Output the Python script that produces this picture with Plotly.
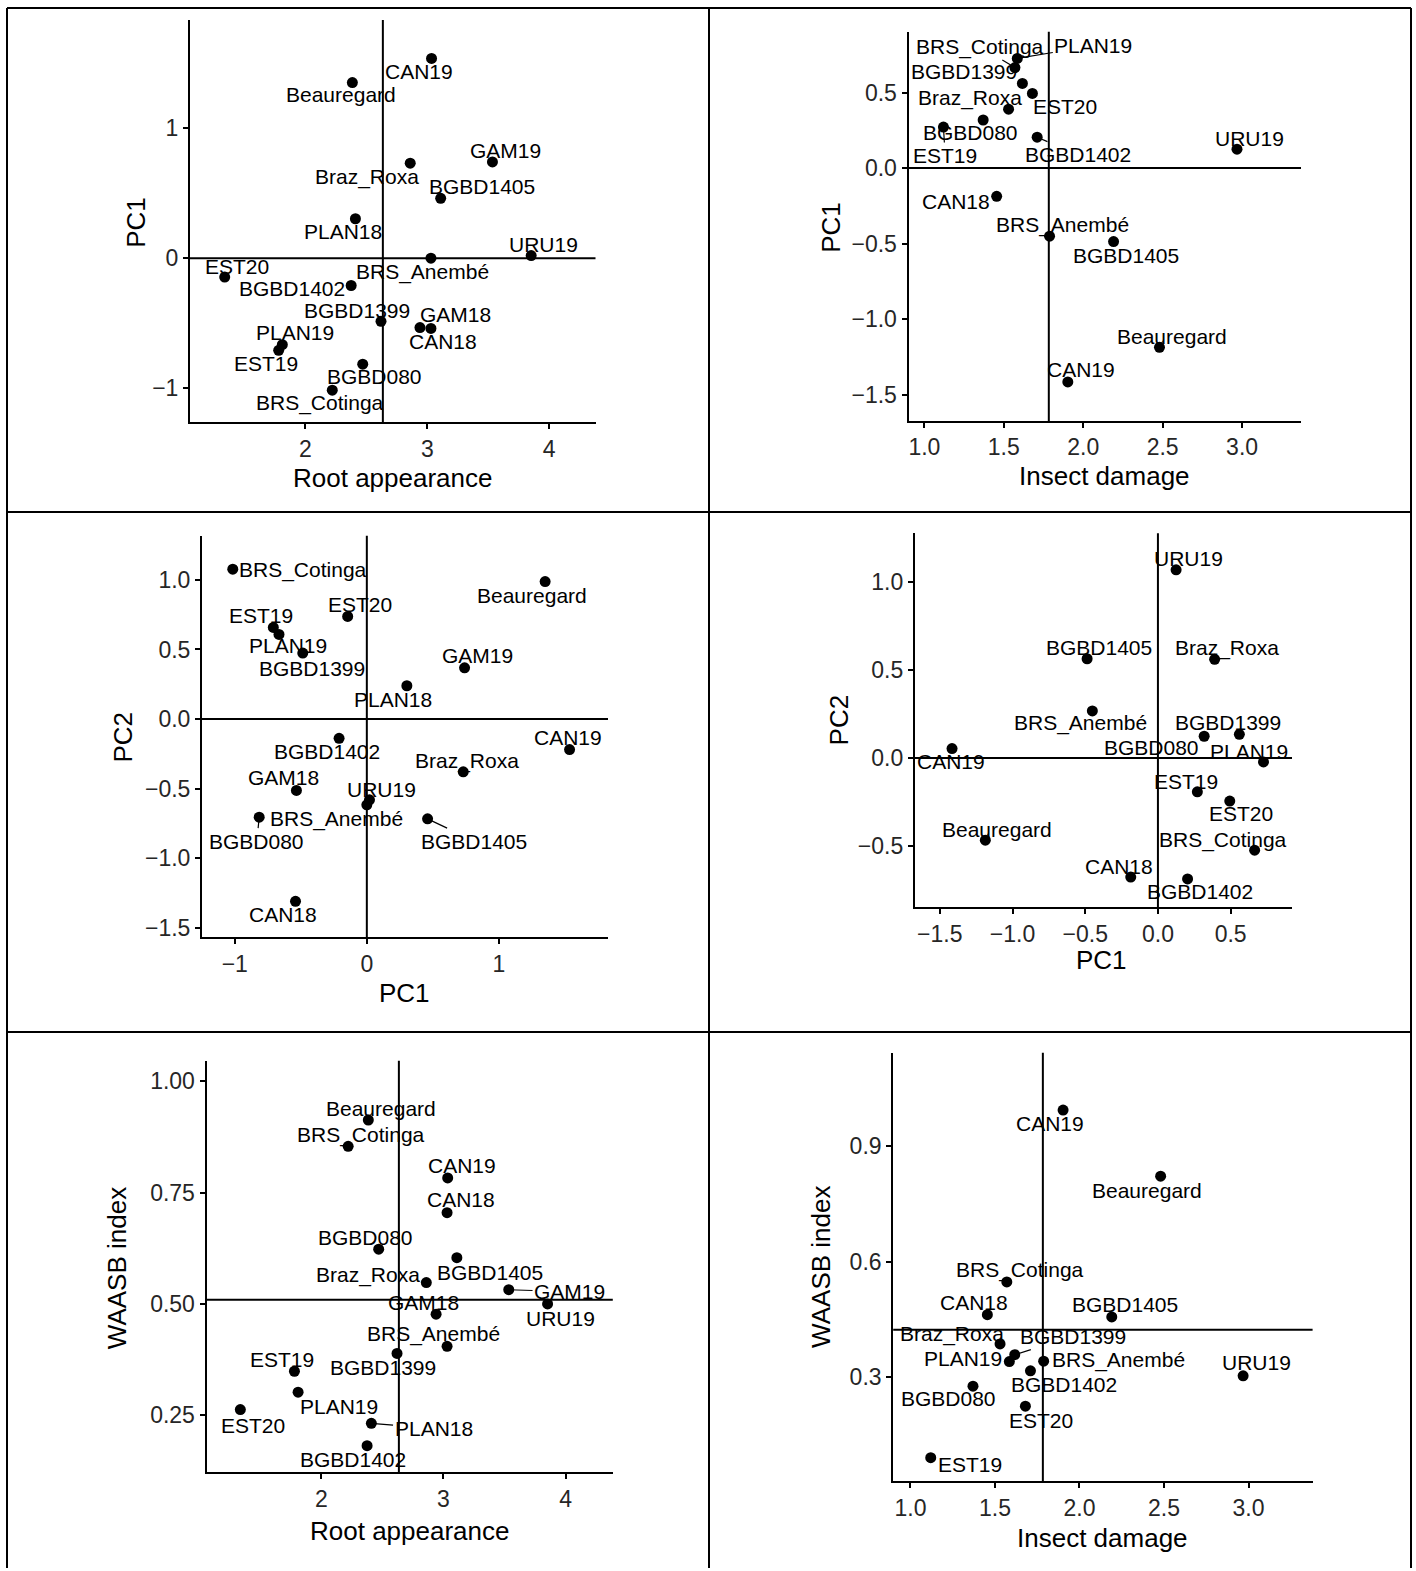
import numpy as np
import plotly.graph_objects as go

W, H = 1416, 1571
FONT = "Liberation Sans, Arial, sans-serif"

# ---------------- data ----------------
genotypes_a = ["Beauregard", "BGBD080", "BGBD1399", "BGBD1402", "BGBD1405", "Braz_Roxa",
               "BRS_Anembé", "BRS_Cotinga", "CAN18", "CAN19", "EST19", "EST20",
               "GAM18", "GAM19", "PLAN18", "PLAN19", "URU19"]
root_appearance = [2.385, 2.47, 2.62, 2.375, 3.11, 2.86, 3.03, 2.22, 3.03, 3.035, 1.78, 1.337,
                   2.94, 3.535, 2.41, 1.81, 3.853]
pc1_a = [1.35, -0.815, -0.485, -0.21, 0.46, 0.73, 0.0, -1.015, -0.54, 1.535, -0.708, -0.145,
         -0.533, 0.74, 0.303, -0.665, 0.02]
pc2_a = [0.988, -0.706, 0.474, -0.139, -0.718, -0.380, -0.617, 1.077, -1.311, -0.220, 0.658, 0.737,
         -0.514, 0.368, 0.239, 0.608, -0.581]
waasb_a = [0.913, 0.623, 0.389, 0.182, 0.604, 0.548, 0.405, 0.854, 0.705, 0.783, 0.349, 0.263,
           0.477, 0.532, 0.232, 0.302, 0.500]

genotypes_b = ["Beauregard", "BGBD080", "BGBD1399", "BGBD1402", "BGBD1405", "Braz_Roxa",
               "BRS_Anembé", "BRS_Cotinga", "CAN18", "CAN19", "EST19", "EST20", "PLAN19", "URU19"]
insect_damage = [2.48, 1.37, 1.617, 1.71, 2.191, 1.53, 1.788, 1.57, 1.455, 1.903, 1.12, 1.68, 1.585, 2.968]
pc1_b = [-1.187, 0.318, 0.56, 0.204, -0.487, 0.39, -0.451, 0.665, -0.187, -1.416, 0.271, 0.494, 0.726, 0.125]
pc2_b = [-0.468, 0.123, 0.134, -0.689, 0.564, 0.561, 0.267, -0.525, -0.678, 0.053, -0.193, -0.246, -0.023, 1.070]
waasb_b = [0.822, 0.276, 0.358, 0.316, 0.456, 0.386, 0.341, 0.547, 0.462, 0.994, 0.090, 0.224, 0.340, 0.303]

# ---------------- label placement (pixel offsets: dx, dy-down, anchor) ----------------
lab1 = {"CAN19": (-12.7, 13, "c"), "Beauregard": (-11.8, 12, "c"), "GAM19": (12.7, -11.7, "c"),
        "Braz_Roxa": (-43.6, 13.3, "c"), "BGBD1405": (41, -11.7, "c"), "PLAN18": (-12.7, 13, "c"),
        "URU19": (12.3, -11, "c"), "BRS_Anembé": (-8.6, 13.7, "c"), "EST20": (11.8, -11, "c"),
        "BGBD1402": (-4.5, 2.7, "r"), "BGBD1399": (-24.5, -11, "c"), "GAM18": (35.5, -12.7, "c"),
        "CAN18": (11.8, 12.7, "c"), "PLAN19": (12.3, -11.7, "c"), "EST19": (-12.7, 13, "c"),
        "BGBD080": (11.8, 12.7, "c"), "BRS_Cotinga": (-12.3, 13, "c")}
lab2 = {"BRS_Cotinga": (-35.3, -21, "a"), "PLAN19": (76, -12.6, "a"), "BGBD1399": (-3.4, -12.3, "r"),
        "Braz_Roxa": (-38.6, -10.7, "c"), "EST20": (33, 13.4, "c"), "BGBD080": (-12.7, 12.6, "c"),
        "EST19": (1.7, 28.4, "a"), "BGBD1402": (40.7, 17.4, "a"), "URU19": (12.7, -11, "c"),
        "CAN18": (-4.5, 5.3, "r"), "BRS_Anembé": (12.7, -11, "c"), "BGBD1405": (12.3, 13.7, "c"),
        "Beauregard": (12.7, -11, "c"), "CAN19": (12.7, -12.3, "c")}
lab3 = {"BRS_Cotinga": (4.6, 0.7, "l"), "Beauregard": (-13.6, 14.3, "c"), "EST20": (12.7, -12, "c"),
        "EST19": (-12.7, -12.3, "c"), "PLAN19": (9.1, 10.7, "c"), "BGBD1399": (9.5, 15.3, "c"),
        "GAM19": (13.2, -12.7, "c"), "PLAN18": (-13.6, 13.7, "c"), "CAN19": (-1.8, -12, "c"),
        "BGBD1402": (-12.3, 13.3, "c"), "Braz_Roxa": (3.6, -10.7, "c"), "GAM18": (-12.7, -12.7, "c"),
        "URU19": (12.3, -10.7, "c"), "BRS_Anembé": (-30.5, 14.3, "c"), "BGBD080": (-2.3, 24, "a"),
        "BGBD1405": (46.8, 22.3, "a"), "CAN18": (-12.3, 13.3, "c")}
lab4 = {"URU19": (12.7, -11.7, "c"), "BGBD1405": (11.4, -11, "c"), "Braz_Roxa": (12.3, -11.3, "c"),
        "BRS_Anembé": (-11.8, 12.3, "c"), "BGBD1399": (-11.4, -12, "c"), "BGBD080": (-3.6, 11.7, "r"),
        "PLAN19": (-15, -10.7, "c"), "CAN19": (-0.9, 12.7, "c"), "EST19": (-10.9, -10.7, "c"),
        "EST20": (11.4, 12.7, "c"), "Beauregard": (11.8, -11, "c"), "BRS_Cotinga": (-31.4, -9.7, "c"),
        "CAN18": (-11.4, -11, "c"), "BGBD1402": (12.3, 13, "c")}
lab5 = {"Beauregard": (12.3, -11.4, "c"), "BRS_Cotinga": (12.7, -11.4, "c"), "CAN19": (14, -12.1, "c"),
        "CAN18": (14, -13.5, "c"), "BGBD080": (-13.2, -11.7, "c"), "BGBD1405": (33.1, 14.8, "c"),
        "Braz_Roxa": (-4.6, -7.6, "r"), "GAM19": (60.8, 2, "a"), "URU19": (12.7, 14.5, "c"),
        "GAM18": (-12.3, -11.7, "c"), "BRS_Anembé": (-13.2, -12.8, "c"), "BGBD1399": (-14.1, 14.5, "c"),
        "EST19": (-12.7, -11.7, "c"), "PLAN19": (41.3, 14.1, "c"), "EST20": (12.3, 15.5, "c"),
        "PLAN18": (62.2, 5.2, "a"), "BGBD1402": (-13.6, 13.8, "c")}
lab6 = {"CAN19": (-12.7, 13.8, "c"), "Beauregard": (-13.2, 14.5, "c"), "BRS_Cotinga": (13.6, -11.7, "c"),
        "CAN18": (-13.6, -11.7, "c"), "BGBD1405": (13.6, -12.4, "c"), "Braz_Roxa": (-47.7, -9.7, "c"),
        "BGBD1399": (58, -18, "a"), "PLAN19": (-5.7, -2.7, "r"), "BRS_Anembé": (6, -1.7, "l"),
        "BGBD1402": (33.6, 13.4, "c"), "BGBD080": (-24.4, 12.7, "c"), "EST20": (15.9, 13.8, "c"),
        "URU19": (13.2, -13.8, "c"), "EST19": (5.4, 6.9, "l")}

panels = [
    dict(k="", x=root_appearance, y=pc1_a, names=genotypes_a, lab=lab1,
         xpx=(190, 595.5), ypx=(20, 423.3), xr=[1.052, 4.381], yr=[-1.263, 1.831],
         xt=dict(tickvals=[2, 3, 4]), yt=dict(tickvals=[-1, 0, 1]),
         vline=np.mean(root_appearance), hline=0.0,
         xtitle=("Root appearance", 392.5, 479), ytitle=("PC1", 135.2, 223)),
    dict(k="2", x=insect_damage, y=pc1_b, names=genotypes_b, lab=lab2,
         xpx=(908.5, 1301), ypx=(31.7, 421.7), xr=[0.9, 3.371], yr=[-1.674, 0.903],
         xt=dict(tick0=1.0, dtick=0.5, tickformat=".1f"), yt=dict(tick0=0, dtick=0.5, tickformat=".1f"),
         vline=np.mean(insect_damage), hline=0.0,
         xtitle=("Insect damage", 1104.6, 477), ytitle=("PC1", 830.7, 227.5)),
    dict(k="3", x=pc1_a, y=pc2_a, names=genotypes_a, lab=lab3,
         xpx=(202, 608), ypx=(536.7, 939), xr=[-1.248, 1.826], yr=[-1.569, 1.318],
         xt=dict(tickvals=[-1, 0, 1]), yt=dict(tick0=0, dtick=0.5, tickformat=".1f"),
         vline=0.0, hline=0.0,
         xtitle=("PC1", 404.5, 995), ytitle=("PC2", 122.7, 738.3)),
    dict(k="4", x=pc1_b, y=pc2_b, names=genotypes_b, lab=lab4,
         xpx=(914.8, 1292), ypx=(534.3, 909), xr=[-1.672, 0.922], yr=[-0.850, 1.278],
         xt=dict(tick0=0, dtick=0.5, tickformat=".1f"), yt=dict(tick0=0, dtick=0.5, tickformat=".1f"),
         vline=0.0, hline=0.0,
         xtitle=("PC1", 1101.9, 962), ytitle=("PC2", 839.1, 721.7)),
    dict(k="5", x=root_appearance, y=waasb_a, names=genotypes_a, lab=lab5,
         xpx=(206.5, 612.8), ypx=(1062.8, 1475), xr=[1.06, 4.387], yr=[0.1224, 1.046],
         xt=dict(tickvals=[2, 3, 4]), yt=dict(tick0=0, dtick=0.25, tickformat=".2f"),
         vline=np.mean(root_appearance), hline=np.mean(waasb_a),
         xtitle=("Root appearance", 409, 1534), ytitle=("WAASB index", 116.9, 1270.7)),
    dict(k="6", x=insect_damage, y=waasb_b, names=genotypes_b, lab=lab6,
         xpx=(893.2, 1312.6), ypx=(1054.8, 1483.8), xr=[0.898, 3.379], yr=[0.0296, 1.143],
         xt=dict(tick0=1.0, dtick=0.5, tickformat=".1f"), yt=dict(tick0=0, dtick=0.3, tickformat=".1f"),
         vline=np.mean(insect_damage), hline=np.mean(waasb_b),
         xtitle=("Insect damage", 1102.5, 1541), ytitle=("WAASB index", 821.5, 1269.8)),
]

fig = go.Figure()
annotations = []
shapes = []
axis_common = dict(showgrid=False, zeroline=False, showline=True, linecolor="black", linewidth=2,
                   ticks="outside", ticklen=5, tickwidth=1.5, tickcolor="black",
                   tickfont=dict(family=FONT, size=23, color="#262626"), fixedrange=True)

for p in panels:
    k = p["k"]
    xname, yname = "x" + k, "y" + k
    fig.add_trace(go.Scatter(x=p["x"], y=p["y"], mode="markers",
                             marker=dict(color="black", size=11, line=dict(width=0)),
                             xaxis=xname, yaxis=yname, hoverinfo="skip", showlegend=False))
    xd = [p["xpx"][0] / W, p["xpx"][1] / W]
    yd = [1 - p["ypx"][1] / H, 1 - p["ypx"][0] / H]
    xa = dict(axis_common, domain=xd, range=p["xr"], anchor=yname, **p["xt"])
    ya = dict(axis_common, domain=yd, range=p["yr"], anchor=xname, **p["yt"])
    if "tickvals" in p["xt"]:
        xa["tickmode"] = "array"
    if "tickvals" in p["yt"]:
        ya["tickmode"] = "array"
    fig.update_layout(**{"xaxis" + k: xa, "yaxis" + k: ya})

    # reference lines
    shapes.append(dict(type="line", xref=xname, yref=yname + " domain", x0=p["vline"], x1=p["vline"],
                       y0=0, y1=1, line=dict(color="black", width=2)))
    shapes.append(dict(type="line", xref=xname + " domain", yref=yname, x0=0, x1=1,
                       y0=p["hline"], y1=p["hline"], line=dict(color="black", width=2)))

    # point labels
    for nm, xv, yv in zip(p["names"], p["x"], p["y"]):
        dx, dy, anc = p["lab"][nm]
        base = dict(x=xv, y=yv, xref=xname, yref=yname, text=nm,
                    font=dict(family=FONT, size=21, color="black"))
        if anc == "a":
            base.update(showarrow=True, ax=dx, ay=dy, axref="pixel", ayref="pixel",
                        arrowhead=0, arrowwidth=1.2, arrowcolor="black", standoff=0,
                        startstandoff=0, xanchor="center", yanchor="middle")
        else:
            xanchor = {"c": "center", "l": "left", "r": "right"}[anc]
            base.update(showarrow=False, xshift=dx, yshift=-dy, xanchor=xanchor, yanchor="middle")
        annotations.append(base)

    # axis titles
    t, tx, ty = p["xtitle"]
    annotations.append(dict(text=t, x=tx / W, y=1 - ty / H, xref="paper", yref="paper",
                            showarrow=False, xanchor="center", yanchor="middle",
                            font=dict(family=FONT, size=26, color="black")))
    t, tx, ty = p["ytitle"]
    annotations.append(dict(text=t, x=tx / W, y=1 - ty / H, xref="paper", yref="paper",
                            showarrow=False, xanchor="center", yanchor="middle", textangle=-90,
                            font=dict(family=FONT, size=26, color="black")))

# table borders
border_x = [7, 709, 1411]
border_y = [8, 513, 1034]
for bx in border_x:
    shapes.append(dict(type="line", xref="paper", yref="paper", x0=bx / W, x1=bx / W,
                       y0=0, y1=1 - border_y[0] / H, line=dict(color="black", width=2)))
for by in border_y:
    shapes.append(dict(type="line", xref="paper", yref="paper", x0=border_x[0] / W, x1=border_x[-1] / W,
                       y0=1 - by / H, y1=1 - by / H, line=dict(color="black", width=2)))

fig.update_layout(width=W, height=H, margin=dict(l=0, r=0, t=0, b=0),
                  paper_bgcolor="white", plot_bgcolor="white",
                  annotations=annotations, shapes=shapes, showlegend=False,
                  font=dict(family=FONT))

fig.write_html("out.html", config={"displayModeBar": False})
